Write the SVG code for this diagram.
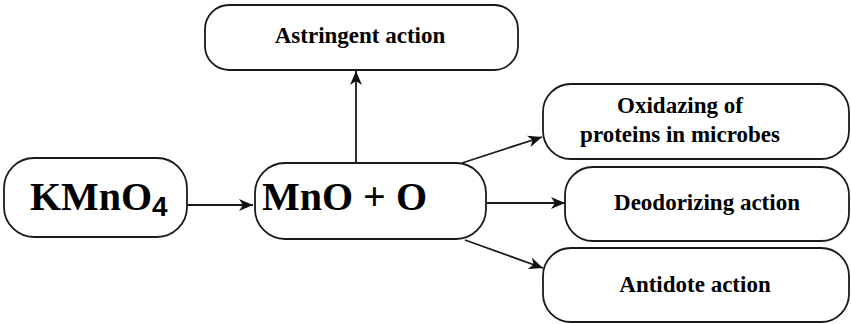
<svg xmlns="http://www.w3.org/2000/svg" width="851" height="324" viewBox="0 0 851 324">
  <style>
    .box { fill: #ffffff; stroke: #1a1a1a; stroke-width: 1.8; }
    .lbl { font-family: "Liberation Serif", "Times New Roman", serif; font-weight: bold; fill: #000; }
    .big { font-size: 40px; }
    .sm { font-size: 23px; text-anchor: middle; }
    .sub { font-family: "Liberation Sans", Arial, sans-serif; font-weight: bold; font-size: 28px; fill: #000; }
    .edge { stroke: #1a1a1a; stroke-width: 1.8; fill: none; marker-end: url(#head); }
  </style>
  <defs>
    <marker id="head" markerUnits="userSpaceOnUse" markerWidth="15" markerHeight="12" refX="14" refY="6" orient="auto">
      <path d="M0,0 L14,6 L0,12 L4,6 Z" fill="#111"/>
    </marker>
  </defs>
  <rect width="851" height="324" fill="#ffffff"/>

  <!-- connectors -->
  <g id="connectors">
    <line class="edge" x1="183" y1="205" x2="253" y2="205"/>
    <line class="edge" x1="356" y1="163" x2="356" y2="71"/>
    <line class="edge" x1="462" y1="163" x2="542" y2="137"/>
    <line class="edge" x1="487" y1="203" x2="565" y2="203"/>
    <line class="edge" x1="465" y1="240" x2="543" y2="268"/>
  </g>

  <g id="kmno4">
    <rect class="box" x="4" y="158" width="183" height="79" rx="30" ry="30"/>
    <text class="lbl big" x="30" y="210">KMnO</text>
    <text class="sub" x="152" y="216">4</text>
  </g>

  <g id="mno_o">
    <rect class="box" x="255" y="163" width="231" height="76" rx="30" ry="30"/>
    <text class="lbl big" x="262" y="210">MnO + O</text>
  </g>

  <g id="astringent">
    <rect class="box" x="205" y="5" width="313" height="65" rx="24" ry="24"/>
    <text class="lbl sm" x="360" y="43">Astringent action</text>
  </g>

  <g id="oxidazing">
    <rect class="box" x="543" y="84" width="306" height="75" rx="28" ry="28"/>
    <text class="lbl sm" x="680" y="113">Oxidazing of</text>
    <text class="lbl sm" x="680" y="142">proteins in microbes</text>
  </g>

  <g id="deodorizing">
    <rect class="box" x="565" y="167" width="284" height="74" rx="28" ry="28"/>
    <text class="lbl sm" x="707" y="210">Deodorizing action</text>
  </g>

  <g id="antidote">
    <rect class="box" x="543" y="248" width="306" height="74" rx="28" ry="28"/>
    <text class="lbl sm" x="695" y="292">Antidote action</text>
  </g>
</svg>
